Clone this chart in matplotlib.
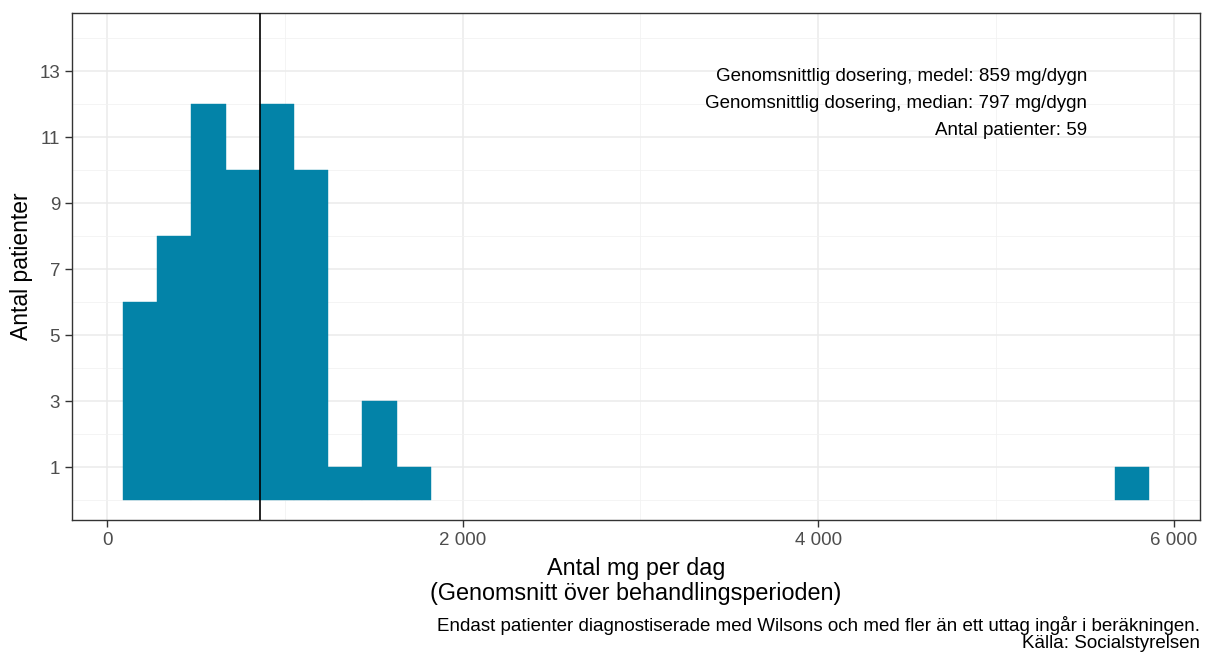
import matplotlib
matplotlib.use("Agg")
import matplotlib.pyplot as plt
from matplotlib.ticker import FuncFormatter, MultipleLocator

plt.rcParams['font.family'] = ['Liberation Sans', 'DejaVu Sans']

# Data
bin_start = 90.0
bin_width = 192.4
counts = [6, 8, 12, 10, 12, 10, 1, 3, 1, 0, 0, 0, 0, 0, 0,
          0, 0, 0, 0, 0, 0, 0, 0, 0, 0, 0, 0, 0, 0, 1]
mean_dose = 859
x_ticks = [0, 2000, 4000, 6000]
y_ticks = [1, 3, 5, 7, 9, 11, 13]
annot_lines = ["Genomsnittlig dosering, medel: 859 mg/dygn",
               "Genomsnittlig dosering, median: 797 mg/dygn",
               "Antal patienter: 59"]

fig = plt.figure(figsize=(12.07, 6.53), dpi=100)
ax = fig.add_axes([72/1207, 1-520/653, (1200-72)/1207, (520-13)/653])

lefts = [bin_start + i*bin_width for i in range(len(counts))]
edges = ['#0383A8' if c > 0 else 'none' for c in counts]
ax.bar(lefts, counts, width=bin_width, align='edge', color='#0383A8',
       edgecolor=edges, linewidth=0.3, zorder=2)
ax.axvline(mean_dose, color='black', linewidth=1.2, zorder=3)

ax.set_xlim(-197, 6147)
ax.set_ylim(-0.6, 14.76)
ax.set_xticks(x_ticks)
ax.set_yticks(y_ticks)
ax.xaxis.set_minor_locator(MultipleLocator(1000))
ax.yaxis.set_minor_locator(MultipleLocator(2))
ax.xaxis.set_major_formatter(FuncFormatter(lambda v, p: f"{int(v):,}".replace(",", " ")))

ax.grid(which='major', color='#EBEBEB', linewidth=1.1, zorder=0)
ax.grid(which='minor', color='#F2F2F2', linewidth=0.6, zorder=0)
ax.set_axisbelow(True)
for s in ax.spines.values():
    s.set_color('#333333')
    s.set_linewidth(1.0)
ax.tick_params(which='major', length=5, color='#333333', labelsize=13.5, labelcolor='#4D4D4D', width=1)
ax.tick_params(which='minor', length=0)

for i, t in enumerate(annot_lines):
    ax.text(5512, 12.85 - i*0.83, t, ha='right', va='center', fontsize=13.5, color='black')

fig.text(22/1207, 1-(520+13)/2/653, "Antal patienter", rotation=90, ha='center', va='center', fontsize=16.5)
fig.text(636/1207, 1-581/653, "Antal mg per dag\n(Genomsnitt över behandlingsperioden)",
         ha='center', va='center', fontsize=16.8, linespacing=1.15)
fig.text(1200/1207, 1-634/653, "Endast patienter diagnostiserade med Wilsons och med fler än ett uttag ingår i beräkningen.\nKälla: Socialstyrelsen",
         ha='right', va='center', fontsize=13.5, linespacing=1.05)

fig.savefig("out.png", dpi=100)
